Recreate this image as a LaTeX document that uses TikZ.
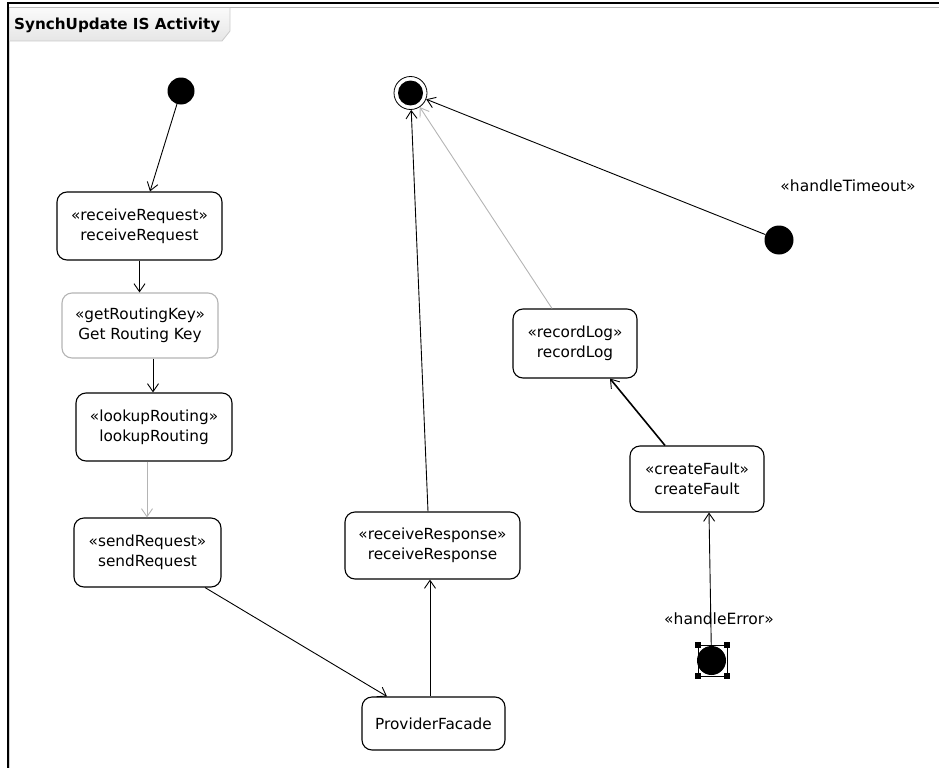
\documentclass[tikz,border=0pt]{standalone}
\usepackage{fontspec}
\setmainfont{DejaVu Sans}
\usetikzlibrary{arrows.meta,shapes.geometric}
\definecolor{lgray}{HTML}{B4B4B4}
\definecolor{tabtop}{HTML}{FAFAFA}
\definecolor{tabbot}{HTML}{E6E6E6}
\tikzset{
  act/.style={draw, rounded corners=10pt, line width=1.1pt, align=center,
    font=\fontsize{15.3}{20}\selectfont, inner sep=0pt},
  dot/.style={circle, fill=black, minimum size=27pt, inner sep=0pt},
  flow/.style={line width=0.9pt, -{Straight Barb[length=8pt,width=11pt,line width=0.9pt]}},
  lbl/.style={font=\fontsize{15.5}{18}\selectfont, inner sep=0pt},
  handle/.style={fill=black, minimum size=5.5pt, inner sep=0pt}
}
\begin{document}
\begin{tikzpicture}[x=1pt,y=-1pt]
\useasboundingbox (0,0) rectangle (939,768);
% frame
\draw[lgray, line width=1pt] (9,7.5) -- (939,7.5);
\draw[black, line width=1.6pt] (8,3) -- (939,3);
\draw[black, line width=1.6pt] (8,2.2) -- (8,768);
\draw[lgray!60, line width=0.8pt] (9.5,8) -- (9.5,768);
% tab
\shade[top color=tabtop, bottom color=tabbot] (9.5,8) -- (230,8) -- (230,31) -- (222,41) -- (9.5,41) -- cycle;
\draw[lgray!70, line width=0.8pt] (230,8) -- (230,31) -- (222,41) -- (9.5,41);
\node[font=\fontsize{15.2}{17}\selectfont\bfseries, anchor=west, inner sep=0pt] (title) at (14,25) {SynchUpdate IS Activity};
% nodes
\node[dot] (init1) at (181,91) {};
\node[circle, draw, line width=0.8pt, minimum size=33pt, inner sep=0pt] (final) at (410.5,93) {};
\fill (final.center) circle (12.5);
\node[act, minimum width=165pt, minimum height=68pt] (rr) at (139.5,226) {«receiveRequest»\\receiveRequest};
\node[act, draw=lgray, minimum width=156pt, minimum height=65pt] (grk) at (140,325.5) {«getRoutingKey»\\Get Routing Key};
\node[act, minimum width=156pt, minimum height=68pt] (lr) at (154,427) {«lookupRouting»\\lookupRouting};
\node[act, minimum width=147pt, minimum height=69pt] (sr) at (147.5,552.5) {«sendRequest»\\sendRequest};
\node[act, minimum width=175pt, minimum height=67pt] (rresp) at (432.5,545.5) {«receiveResponse»\\receiveResponse};
\node[act, minimum width=143pt, minimum height=53pt] (pf) at (433.5,723.5) {ProviderFacade};
\node[act, minimum width=124pt, minimum height=69pt] (rl) at (575,343.5) {«recordLog»\\recordLog};
\node[act, minimum width=134pt, minimum height=66pt] (cf) at (697,479) {«createFault»\\createFault};
\node[dot, minimum size=29pt] (tmo) at (779,240) {};
\node[lbl] (tmolbl) at (848,186) {«handleTimeout»};
\node[dot, minimum size=29pt] (he) at (711.5,660.5) {};
\node[lbl] (helbl) at (719,619) {«handleError»};
% selection handles on handleError
\draw[line width=0.4pt] (698,645) rectangle (727,676);
\node[handle] (h1) at (698,645) {};
\node[handle] (h2) at (727,645) {};
\node[handle] (h3) at (698,676) {};
\node[handle] (h4) at (727,676) {};
% flows
\draw[flow] (init1) -- ([xshift=10.5pt]rr.north);
\draw[flow] (rr.south) -- (rr.south |- grk.north);
\draw[flow] ([xshift=13pt]grk.south) -- ([xshift=-1pt]lr.north);
\draw[flow, draw=lgray] ([xshift=-7pt]lr.south) -- ([xshift=-0.5pt]sr.north);
\draw[flow] ([xshift=57.5pt]sr.south) -- ([xshift=-46.5pt]pf.north);
\draw[flow] ([xshift=-3.5pt]pf.north) -- ([xshift=-2.5pt]rresp.south);
\draw[flow] ([xshift=-4.5pt]rresp.north) -- (final);
\draw[flow, draw=lgray] ([xshift=-23pt]rl.north) -- (final);
\draw[flow] (tmo) -- (final);
\draw[flow, line width=1.6pt] ([xshift=-32pt]cf.north) -- ([xshift=35pt]rl.south);
\draw[flow] (he) -- ([xshift=12pt]cf.south);
\end{tikzpicture}
\end{document}
